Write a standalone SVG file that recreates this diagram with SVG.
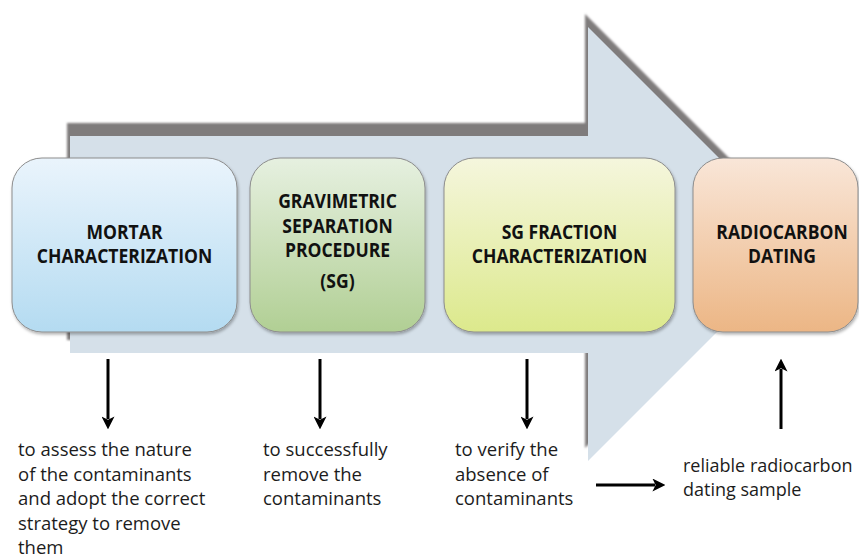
<svg xmlns="http://www.w3.org/2000/svg" width="859" height="560" viewBox="0 0 859 560">
<defs>
<style>
.box{stroke:#8c8c8c;stroke-width:1;filter:url(#bs)}
.title{font-family:"Open Sans","Liberation Sans",sans-serif;font-weight:bold;font-size:19.5px;fill:#111;text-anchor:middle}
.note{font-family:"Open Sans","Liberation Sans",sans-serif;font-size:18.5px;fill:#1c1c1c}
.note2{font-family:"Open Sans","Liberation Sans",sans-serif;font-size:18px;fill:#1c1c1c}
.conn{stroke:#000;stroke-width:3;fill:none;marker-end:url(#ah)}
</style>
<linearGradient id="g1" x1="0" y1="0" x2="0" y2="1"><stop offset="0" stop-color="#eaf4fc"/><stop offset="1" stop-color="#b4dbf1"/></linearGradient>
<linearGradient id="g2" x1="0" y1="0" x2="0" y2="1"><stop offset="0" stop-color="#e6f0e0"/><stop offset="1" stop-color="#b1cf94"/></linearGradient>
<linearGradient id="g3" x1="0" y1="0" x2="0" y2="1"><stop offset="0" stop-color="#f5f6dd"/><stop offset="1" stop-color="#dce98c"/></linearGradient>
<linearGradient id="g4" x1="0" y1="0" x2="0" y2="1"><stop offset="0" stop-color="#f9e6d8"/><stop offset="1" stop-color="#ecb685"/></linearGradient>
<filter id="blur" x="-5%" y="-5%" width="110%" height="110%"><feGaussianBlur stdDeviation="0.8"/></filter>
<filter id="bs" x="-10%" y="-10%" width="120%" height="130%"><feDropShadow dx="1" dy="2" stdDeviation="1.5" flood-color="#000" flood-opacity="0.3"/></filter>
<marker id="ah" viewBox="0 0 10 10" refX="2" refY="5" markerWidth="13" markerHeight="13" markerUnits="userSpaceOnUse" orient="auto"><path d="M0,0 L10,5 L0,10 L2.5,5 Z" fill="#000"/></marker>
</defs>
<rect width="859" height="560" fill="#fff"/>
<g id="big-arrow">
<polygon points="70,136 588,136 588,27 805,244 588,461 588,353 70,353" transform="translate(-3,-13)" fill="#7f7b7c" filter="url(#blur)"/>
<polygon points="70,136 588,136 588,27 805,244 588,461 588,353 70,353" fill="#d5e0e9"/>
</g>
<g id="node-mortar">
<rect class="box" x="12" y="158" width="225" height="174" rx="30" fill="url(#g1)"/>
<g transform="translate(124.5 0) scale(0.9 1)">
<text class="title" x="0" y="239">MORTAR</text>
<text class="title" x="0" y="263">CHARACTERIZATION</text>
</g>
</g>
<g id="node-gravimetric">
<rect class="box" x="250" y="158" width="175" height="174" rx="30" fill="url(#g2)"/>
<g transform="translate(337.5 0) scale(0.9 1)">
<text class="title" x="0" y="208.5">GRAVIMETRIC</text>
<text class="title" x="0" y="233">SEPARATION</text>
<text class="title" x="0" y="257.5">PROCEDURE</text>
<text class="title" x="0" y="288">(SG)</text>
</g>
</g>
<g id="node-sgfraction">
<rect class="box" x="444" y="158" width="231" height="174" rx="30" fill="url(#g3)"/>
<g transform="translate(559.5 0) scale(0.9 1)">
<text class="title" x="0" y="239">SG FRACTION</text>
<text class="title" x="0" y="263">CHARACTERIZATION</text>
</g>
</g>
<g id="node-radiocarbon">
<rect class="box" x="693" y="158" width="165" height="174" rx="30" fill="url(#g4)"/>
<g transform="translate(782 0) scale(0.9 1)">
<text class="title" x="0" y="239">RADIOCARBON</text>
<text class="title" x="0" y="263">DATING</text>
</g>
</g>
<g id="connectors">
<line class="conn" x1="108" y1="359" x2="108" y2="419"/>
<line class="conn" x1="320" y1="359" x2="320" y2="419"/>
<line class="conn" x1="527" y1="359" x2="527" y2="419"/>
<line class="conn" x1="781" y1="429" x2="781" y2="369"/>
<line class="conn" x1="596" y1="485" x2="655" y2="485"/>
</g>
<g id="note-mortar">
<text class="note" x="18" y="456">to assess the nature</text>
<text class="note" x="18" y="480.5">of the contaminants</text>
<text class="note" x="18" y="505">and adopt the correct</text>
<text class="note" x="18" y="529.5">strategy to remove</text>
<text class="note" x="18" y="554">them</text>
</g>
<g id="note-gravimetric">
<text class="note" x="263" y="456">to successfully</text>
<text class="note" x="263" y="480.5">remove the</text>
<text class="note" x="263" y="505">contaminants</text>
</g>
<g id="note-sgfraction">
<text class="note" x="455" y="456">to verify the</text>
<text class="note" x="455" y="480.5">absence of</text>
<text class="note" x="455" y="505">contaminants</text>
</g>
<g id="note-radiocarbon">
<text class="note2" x="683" y="472">reliable radiocarbon</text>
<text class="note2" x="683" y="496">dating sample</text>
</g>
</svg>
